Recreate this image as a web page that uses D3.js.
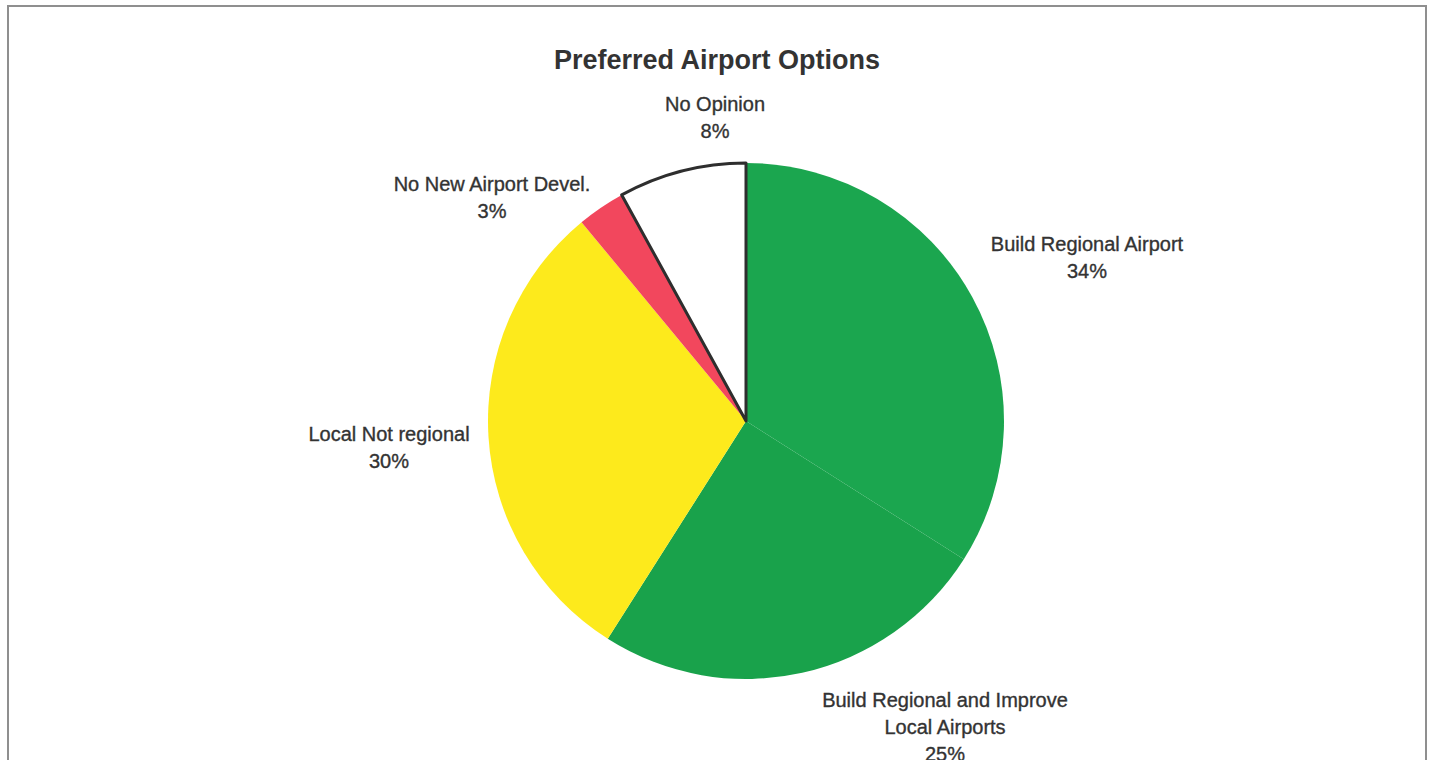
<!DOCTYPE html>
<html>
<head>
<meta charset="utf-8">
<script src="https://cdn.jsdelivr.net/npm/d3@7"></script>
<style>
  html, body { margin: 0; padding: 0; background: #fff; }
  svg { display: block; }
  text { font-family: "Liberation Sans", Arial, sans-serif; fill: #333; }
</style>
</head>
<body>
<svg id="chart" width="1429" height="760"></svg>
<script>
// Survey results, in pie order (clockwise from 12 o'clock)
const categories = [
  "Build Regional Airport",
  "Build Regional and Improve Local Airports",
  "Local Not regional",
  "No New Airport Devel.",
  "No Opinion"
];
const values = [34, 25, 30, 3, 8];
const labelLines = [
  ["Build Regional Airport", "34%"],
  ["Build Regional and Improve", "Local Airports", "25%"],
  ["Local Not regional", "30%"],
  ["No New Airport Devel.", "3%"],
  ["No Opinion", "8%"]
];
const sliceColors = ["#1ba64f", "#19a24b", "#fdea1c", "#f2475d", "#ffffff"];

const cx = 746, cy = 421, R = 258;
const svg = d3.select("#chart");

// outer frame
svg.append("rect")
  .attr("x", 8).attr("y", 6).attr("width", 1418).attr("height", 755)
  .attr("fill", "#fff").attr("stroke", "#8f8f8f").attr("stroke-width", 2);

// title
svg.append("text")
  .attr("x", 717).attr("y", 69)
  .attr("text-anchor", "middle")
  .attr("font-size", 27).attr("font-weight", "bold")
  .text("Preferred Airport Options");

const pie = d3.pie().sort(null).value(d => d.value);
const arc = d3.arc().innerRadius(0).outerRadius(R);
const data = categories.map((c, i) => ({ name: c, value: values[i], color: sliceColors[i], lines: labelLines[i] }));
const arcs = pie(data);

const g = svg.append("g").attr("transform", `translate(${cx},${cy})`);

g.selectAll("path.slice")
  .data(arcs)
  .join("path")
  .attr("class", "slice")
  .attr("d", arc)
  .attr("fill", d => d.data.color)
  .attr("stroke", d => d.data.name === "No Opinion" ? "#2e2e2e" : "none")
  .attr("stroke-width", 3)
  .attr("stroke-linejoin", "round");

// label anchor: centre of each label block, relative to the pie centre
const labelAnchor = {
  "Build Regional Airport": [341, -164],
  "Build Regional and Improve Local Airports": [199, 306],
  "Local Not regional": [-357, 26],
  "No New Airport Devel.": [-254, -224],
  "No Opinion": [-31, -304]
};
const lineH = 27;

const labels = g.selectAll("text.lbl")
  .data(arcs)
  .join("text")
  .attr("class", "lbl")
  .attr("text-anchor", "middle")
  .attr("font-size", 20)
  .attr("stroke", "#333")
  .attr("stroke-width", 0.35)
  .attr("transform", d => {
    const [x, y] = labelAnchor[d.data.name];
    const n = d.data.lines.length;
    return `translate(${x},${y - (n - 1) * lineH / 2})`;
  });

labels.selectAll("tspan")
  .data(d => d.data.lines)
  .join("tspan")
  .attr("x", 0)
  .attr("dy", (t, i) => i === 0 ? "0.35em" : lineH)
  .text(t => t);
</script>
</body>
</html>
